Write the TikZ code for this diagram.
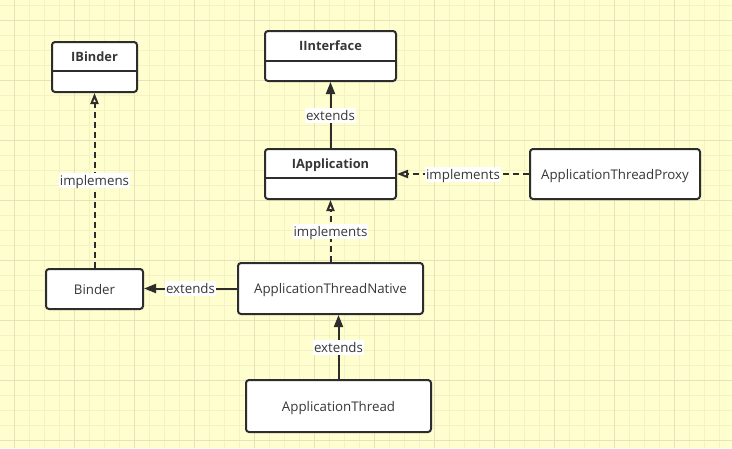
\documentclass[tikz,border=0pt]{standalone}
\usepackage{fontspec}
\setmainfont{Open Sans}
\usetikzlibrary{arrows.meta,calc}
\definecolor{bgyellow}{RGB}{255,254,206}
\definecolor{gridminor}{RGB}{244,241,196}
\definecolor{gridmajor}{RGB}{230,226,186}
\definecolor{ink}{RGB}{45,45,45}
\definecolor{txt}{RGB}{55,55,55}
\tikzset{
  cls/.style={draw=ink, line width=2pt, fill=white, rounded corners=3pt, inner sep=0pt},
  ttl/.style={font=\fontsize{12.8}{15}\selectfont\bfseries, text=txt, inner sep=0pt, text height=11pt, text depth=1pt},
  plain/.style={cls, font=\fontsize{13.3}{16}\selectfont, text=txt, text height=11.5pt, text depth=1.5pt},
  lbl/.style={fill=white, inner sep=1pt, font=\fontsize{13.3}{16}\selectfont, text=txt, text height=11.5pt, text depth=1.5pt},
  solidarr/.style={draw=ink, line width=2pt, -{Triangle[width=9pt,length=12pt]}},
  dasharr/.style={draw=ink, line width=2pt, dash pattern=on 6pt off 4pt, -{Triangle[open,width=8pt,length=11pt]}},
}
\begin{document}
\begin{tikzpicture}[x=1pt,y=-1pt]
\useasboundingbox (0,0) rectangle (732,448);
\fill[bgyellow] (0,0) rectangle (732,448);
\foreach \i in {0,...,49} \draw[gridminor, line width=1pt] ({-0.7+15*\i},0) -- ++(0,448);
\foreach \j in {0,...,30} \draw[gridminor, line width=1pt] (0,{5+15*\j}) -- ++(732,0);
\foreach \i in {0,...,12} \draw[gridmajor, line width=1pt] ({14.3+60*\i},0) -- ++(0,448);
\foreach \j in {0,...,7} \draw[gridmajor, line width=1pt] (0,{20+60*\j}) -- ++(732,0);

% class boxes with a title compartment
\node[cls, minimum width=85pt, minimum height=50pt] (ibinder) at (94.5,67) {};
\node[ttl] (ibindert) at ($(ibinder.north)+(0,-15pt)$) {IBinder};
\draw[ink, line width=2pt] ([yshift=-30pt]ibinder.north west) -- ([yshift=-30pt]ibinder.north east);

\node[cls, minimum width=131pt, minimum height=50pt] (iinterface) at (330.5,56) {};
\node[ttl] (iinterfacet) at ($(iinterface.north)+(0,-15pt)$) {IInterface};
\draw[ink, line width=2pt] ([yshift=-31pt]iinterface.north west) -- ([yshift=-31pt]iinterface.north east);

\node[cls, minimum width=131pt, minimum height=50pt] (iapp) at (330.5,174) {};
\node[ttl] (iappt) at ($(iapp.north)+(0,-15pt)$) {IApplication};
\draw[ink, line width=2pt] ([yshift=-30pt]iapp.north west) -- ([yshift=-30pt]iapp.north east);

% plain boxes
\node[plain, minimum width=170pt, minimum height=50pt] (proxy) at (615,174) {ApplicationThreadProxy};
\node[plain, minimum width=185pt, minimum height=51pt] (native) at (330.5,288.5) {ApplicationThreadNative};
\node[plain, minimum width=97pt, minimum height=40pt] (binder) at (94.5,289) {Binder};
\node[plain, minimum width=185pt, minimum height=52pt] (thread) at (338.5,406) {ApplicationThread};

% connectors
\draw[solidarr] (iapp) -- node[lbl] {extends} (iinterface);
\draw[dasharr] (binder) -- node[lbl] {implemens} (ibinder);
\draw[dasharr] (proxy) -- node[lbl] {implements} (iapp);
\draw[dasharr] (native) -- node[lbl] {implements} (iapp);
\draw[solidarr] (native.west) -- node[lbl] {extends} (native.west -| binder.east);
\draw[solidarr] (thread.north) -- node[lbl] {extends} (thread.north |- native.south);
\end{tikzpicture}
\end{document}
